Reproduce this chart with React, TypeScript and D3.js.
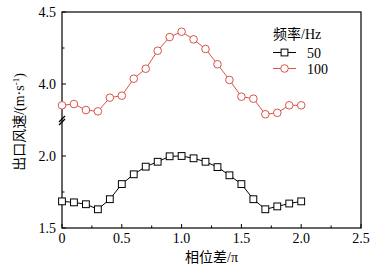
import React from "react";
import * as d3 from "d3";

const phase = [0, 0.1, 0.2, 0.3, 0.4, 0.5, 0.6, 0.7, 0.8, 0.9, 1.0, 1.1, 1.2, 1.3, 1.4, 1.5, 1.6, 1.7, 1.8, 1.9, 2.0];
const speed50 = [1.685, 1.678, 1.665, 1.63, 1.70, 1.805, 1.873, 1.926, 1.96, 1.998, 2.0, 1.984, 1.96, 1.923, 1.866, 1.805, 1.70, 1.63, 1.65, 1.67, 1.685];
const speed100 = [3.852, 3.861, 3.819, 3.81, 3.905, 3.919, 4.037, 4.106, 4.231, 4.326, 4.363, 4.31, 4.243, 4.137, 4.028, 3.912, 3.898, 3.79, 3.80, 3.852, 3.852];
const xTicks = [0, 0.5, 1.0, 1.5, 2.0, 2.5];
const xMinor = [0.25, 0.75, 1.25, 1.75, 2.25];
const yUpperTicks = [4.0, 4.5];
const yUpperMinor = [4.25];
const yLowerTicks = [1.5, 2.0];
const yLowerMinor = [1.75];
const seriesNames = ["50", "100"];
const legendTitle = "频率/Hz";
const xTitle = "相位差/π";
const yTitle = "出口风速/(m·s";

const L = 62, R = 361, T = 12, B = 228, BRK = 120;
const RED = "#d9534a";
const FONT = "'Liberation Serif', 'Times New Roman', 'Noto Sans CJK SC', serif";

export default function App() {
  const x = d3.scaleLinear().domain([0, 2.5]).range([L, R]);
  const yU = d3.scaleLinear().domain([3.75, 4.5]).range([BRK, T]);
  const yL = d3.scaleLinear().domain([1.5, 2.25]).range([B, BRK]);
  const line50 = d3.line<number>().x((_, i) => x(phase[i])).y((d) => yL(d));
  const line100 = d3.line<number>().x((_, i) => x(phase[i])).y((d) => yU(d));
  const fmt = d3.format(".1f");

  return (
    <svg width={378} height={272} style={{ position: "absolute", left: 0, top: 0, background: "#fff" }} fontFamily={FONT}>
      <rect x={0} y={0} width={378} height={272} fill="#fff" />
      {/* x ticks */}
      {xTicks.map((t) => (
        <g key={"xt" + t}>
          <line x1={x(t)} x2={x(t)} y1={B} y2={B - 4} stroke="#000" />
          <text x={x(t)} y={243} fontSize={14} textAnchor="middle">{fmt(t).replace(/^0\.0$/, "0")}</text>
        </g>
      ))}
      {xMinor.map((t) => (
        <line key={"xm" + t} x1={x(t)} x2={x(t)} y1={B} y2={B - 2.5} stroke="#000" />
      ))}
      {/* y ticks */}
      {yUpperTicks.map((t) => (
        <g key={"yu" + t}>
          <line x1={L} x2={L + 4} y1={yU(t)} y2={yU(t)} stroke="#000" />
          <text x={L - 6} y={yU(t) + 5} fontSize={14} textAnchor="end">{fmt(t)}</text>
        </g>
      ))}
      {yUpperMinor.map((t) => (
        <line key={"yum" + t} x1={L} x2={L + 2.5} y1={yU(t)} y2={yU(t)} stroke="#000" />
      ))}
      {yLowerTicks.map((t) => (
        <g key={"yl" + t}>
          <line x1={L} x2={L + 4} y1={yL(t)} y2={yL(t)} stroke="#000" />
          <text x={L - 6} y={yL(t) + 5} fontSize={14} textAnchor="end">{fmt(t)}</text>
        </g>
      ))}
      {yLowerMinor.map((t) => (
        <line key={"ylm" + t} x1={L} x2={L + 2.5} y1={yL(t)} y2={yL(t)} stroke="#000" />
      ))}
      {/* frame */}
      <rect x={L} y={T} width={R - L} height={B - T} fill="none" stroke="#000" strokeWidth={1.2} />
      {/* break marks */}
      <line x1={L - 3} y1={BRK + 2} x2={L + 3} y2={BRK - 4} stroke="#000" strokeWidth={1.2} />
      <line x1={L - 3} y1={BRK + 5} x2={L + 3} y2={BRK - 1} stroke="#000" strokeWidth={1.2} />
      {/* series 100 */}
      <path d={line100(speed100) || ""} fill="none" stroke={RED} strokeWidth={1} />
      {speed100.map((v, i) => (
        <circle key={"c" + i} cx={x(phase[i])} cy={yU(v)} r={3.8} fill="#fff" stroke={RED} strokeWidth={1} />
      ))}
      {/* series 50 */}
      <path d={line50(speed50) || ""} fill="none" stroke="#000" strokeWidth={1} />
      {speed50.map((v, i) => (
        <rect key={"s" + i} x={x(phase[i]) - 3.4} y={yL(v) - 3.4} width={6.8} height={6.8} fill="#fff" stroke="#000" strokeWidth={1} />
      ))}
      {/* legend */}
      <text x={273} y={39} fontSize={14}>{legendTitle}</text>
      <line x1={273} x2={296} y1={52.5} y2={52.5} stroke="#000" />
      <rect x={284.5 - 3.4} y={52.5 - 3.4} width={6.8} height={6.8} fill="#fff" stroke="#000" />
      <text x={307} y={57.5} fontSize={14}>{seriesNames[0]}</text>
      <line x1={273} x2={296} y1={68.5} y2={68.5} stroke={RED} />
      <circle cx={284.5} cy={68.5} r={3.8} fill="#fff" stroke={RED} />
      <text x={307} y={73.5} fontSize={14}>{seriesNames[1]}</text>
      {/* axis titles */}
      <text x={211.5} y={262} fontSize={14} textAnchor="middle">{xTitle}</text>
      <text transform="translate(24,122) rotate(-90)" fontSize={14} textAnchor="middle">
        {yTitle}
        <tspan dy={-5} fontSize={9}>-1</tspan>
        <tspan dy={5}>)</tspan>
      </text>
    </svg>
  );
}
